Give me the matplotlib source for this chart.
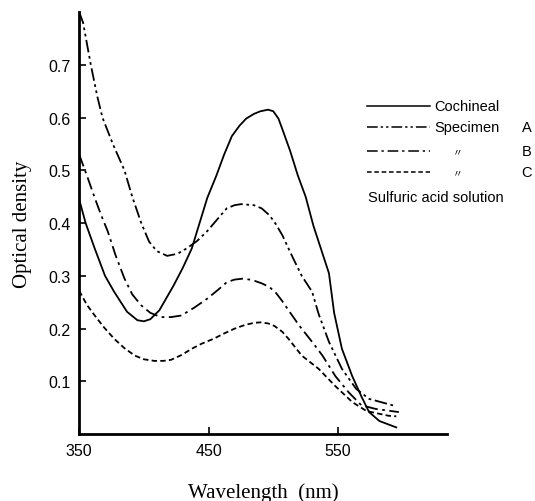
import numpy as np
import matplotlib.pyplot as plt

# Cochineal (solid)
wl_coch = [350, 355, 362, 370, 377, 387, 395, 400, 405, 412, 423, 430, 437, 443, 449, 456, 462, 468, 474, 479, 485, 490, 496, 500, 504, 507, 513, 519, 525, 531, 537, 543, 547, 553, 561, 568, 574, 582, 595]
od_coch = [0.445, 0.40, 0.352, 0.30, 0.27, 0.232, 0.216, 0.214, 0.218, 0.235, 0.282, 0.315, 0.352, 0.40, 0.448, 0.49, 0.53, 0.565, 0.585, 0.598, 0.607, 0.612, 0.615, 0.612, 0.598, 0.578, 0.537, 0.49, 0.45, 0.395, 0.35, 0.305, 0.23, 0.162, 0.11, 0.072, 0.042, 0.025, 0.013]

# Specimen A
wl_a = [350, 353, 356, 359, 364, 368, 376, 385, 391, 398, 404, 410, 418, 426, 433, 441, 449, 457, 464, 470, 475, 485, 491, 497, 502, 507, 515, 522, 530, 535, 543, 553, 564, 574, 595]
od_a = [0.80, 0.78, 0.74, 0.70, 0.64, 0.60, 0.55, 0.50, 0.45, 0.40, 0.365, 0.347, 0.338, 0.342, 0.352, 0.366, 0.385, 0.408, 0.428, 0.434, 0.436, 0.434, 0.428, 0.415, 0.398, 0.377, 0.335, 0.30, 0.27, 0.228, 0.175, 0.124, 0.086, 0.067, 0.053]

# Specimen B
wl_b = [350, 356, 362, 367, 372, 378, 385, 391, 398, 405, 413, 421, 429, 439, 449, 457, 464, 470, 477, 484, 491, 497, 502, 507, 512, 520, 530, 538, 548, 558, 568, 579, 597]
od_b = [0.53, 0.49, 0.448, 0.415, 0.385, 0.34, 0.295, 0.265, 0.244, 0.23, 0.222, 0.222, 0.225, 0.24, 0.257, 0.273, 0.288, 0.293, 0.295, 0.292, 0.286, 0.279, 0.268, 0.252, 0.234, 0.206, 0.175, 0.149, 0.11, 0.08, 0.055, 0.048, 0.042]

# Specimen C
wl_c = [350, 356, 362, 369, 377, 385, 393, 400, 408, 415, 421, 429, 437, 445, 454, 462, 470, 478, 485, 490, 496, 501, 507, 512, 522, 535, 548, 561, 572, 589, 595]
od_c = [0.272, 0.245, 0.225, 0.203, 0.181, 0.163, 0.149, 0.142, 0.139, 0.139, 0.141, 0.15, 0.162, 0.172, 0.181, 0.191, 0.2, 0.207, 0.211, 0.212, 0.21, 0.205, 0.194, 0.18, 0.149, 0.124, 0.091, 0.061, 0.044, 0.035, 0.034]

xticks = [350, 450, 550]
yticks = [0.1, 0.2, 0.3, 0.4, 0.5, 0.6, 0.7]

fig = plt.figure(figsize=(5.35, 5.02), dpi=100)
ax = fig.add_axes([0.148, 0.133, 0.687, 0.841])

lw = 1.3
dash_a = (7, 2, 1.5, 2, 1.5, 2)
dash_b = (7, 2.5, 1.5, 2.5)
dash_c = (3, 1.8)
ax.plot(wl_coch, od_coch, color='black', lw=lw)
ax.plot(wl_a, od_a, color='black', lw=lw, dashes=dash_a)
ax.plot(wl_b, od_b, color='black', lw=lw, dashes=dash_b)
ax.plot(wl_c, od_c, color='black', lw=lw, dashes=dash_c)

ax.set_xlim(350, 634)
ax.set_ylim(0, 0.80)
ax.set_xticks(xticks)
ax.set_yticks(yticks)
ax.set_xticklabels([str(t) for t in xticks], fontfamily='Liberation Sans', fontsize=11.5)
ax.set_yticklabels([str(t) for t in yticks], fontfamily='Liberation Sans', fontsize=11.5)
ax.tick_params(direction='in', length=5, width=1.2, pad=6)
for s in ['top', 'right']:
    ax.spines[s].set_visible(False)
for s in ['left', 'bottom']:
    ax.spines[s].set_linewidth(2)

ax.set_xlabel('Wavelength  (nm)', fontfamily='Liberation Serif', fontsize=15, labelpad=18)
ax.set_ylabel('Optical density', fontfamily='Liberation Serif', fontsize=15, labelpad=12)

# legend drawn by hand, in axes-fraction coordinates
rows = [0.777, 0.727, 0.671, 0.621]
styles = [dict(), dict(dashes=dash_a), dict(dashes=dash_b), dict(dashes=dash_c)]
for yy, st in zip(rows, styles):
    ax.plot([0.783, 0.954], [yy, yy], transform=ax.transAxes, color='black', lw=1.1, clip_on=False, **st)
tf = dict(transform=ax.transAxes, fontfamily='Liberation Sans', fontsize=10.5, va='center')
ditto = dict(transform=ax.transAxes, fontfamily=['Noto Sans CJK JP', 'DejaVu Sans'], fontsize=7, va='center')
ax.text(0.967, rows[0], 'Cochineal', **tf)
ax.text(0.967, rows[1], 'Specimen', **tf)
ax.text(1.204, rows[1], 'A', **tf)
ax.text(1.016, rows[2], '〃', **ditto)
ax.text(1.204, rows[2], 'B', **tf)
ax.text(1.016, rows[3], '〃', **ditto)
ax.text(1.204, rows[3], 'C', **tf)
ax.text(0.785, 0.562, 'Sulfuric acid solution', **tf)

fig.savefig('out.png', dpi=100)
